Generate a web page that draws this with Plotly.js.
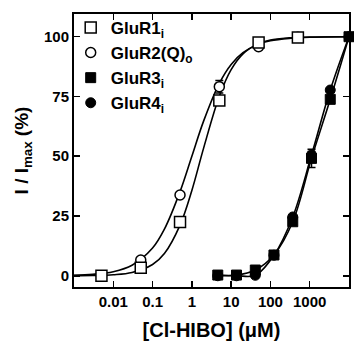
<!DOCTYPE html>
<html><head><meta charset="utf-8">
<script src="https://cdn.plot.ly/plotly-3.0.1.min.js"></script>
<style>html,body{margin:0;padding:0;background:#fff}#chart{width:354px;height:341px}</style>
</head><body><div id="chart"></div>
<script>
// Concentrations (µM)
var concR12 = [0.005, 0.05, 0.5, 5, 50, 500];
var gluR1 = [0, 3.4, 22.5, 73.3, 97.6, 99.7];
var gluR2 = [0, 6.6, 33.8, 79.1, 95.8, 99.8];
var gluR2Err = [0, 0, 0, 2.6, 0, 0];

var concR34 = [4.57, 13.7, 41.2, 123, 370, 1111, 3333, 10000];
var gluR3 = [0.3, 0.3, 2.4, 8.7, 22.6, 49.1, 73.8, 100];
var gluR3Err = [0, 0, 0, 0, 1.2, 3.8, 0, 0];
var gluR4 = [0, 0, 0.2, 8.6, 24.6, 50.5, 77.7, 100];
var gluR4Err = [0, 0, 0, 0, 0, 1.5, 0, 0];

// Fitted curves
var fitX = [0.001, 0.003, 0.01, 0.03, 0.1, 0.2, 0.5, 1, 2, 5, 10, 20, 50, 100, 300, 1000, 10000];
var fitGluR1 = [0.04, 0.12, 0.44, 1.4, 4.7, 9.3, 21.2, 35.7, 53.5, 75.1, 86.2, 92.8, 97.1, 98.6, 99.5, 99.9, 100];
var fitGluR2 = [0.23, 0.6, 1.7, 4.4, 11.6, 19.5, 35.2, 50, 64.8, 80.5, 88.4, 93.3, 96.9, 98.3, 99.3, 99.8, 100];

var names = ['<b>GluR1<sub>i</sub></b>', '<b>GluR2(Q)<sub>o</sub></b>', '<b>GluR3<sub>i</sub></b>', '<b>GluR4<sub>i</sub></b>'];

var traces = [
  {x: fitX, y: fitGluR2, mode: 'lines', line: {color: '#000', width: 1.6, shape: 'spline'}, showlegend: false, hoverinfo: 'skip'},
  {x: fitX, y: fitGluR1, mode: 'lines', line: {color: '#000', width: 1.6, shape: 'spline'}, showlegend: false, hoverinfo: 'skip'},
  {x: concR34, y: gluR4, mode: 'lines', line: {color: '#000', width: 1.6, shape: 'spline'}, showlegend: false, hoverinfo: 'skip'},
  {x: concR34, y: gluR3, mode: 'lines', line: {color: '#000', width: 1.6, shape: 'spline'}, showlegend: false, hoverinfo: 'skip'},
  {x: concR12, y: gluR2, name: names[1], legendrank: 2, mode: 'markers', cliponaxis: false,
   error_y: {type: 'data', array: gluR2Err, color: '#000', thickness: 1.5, width: 4},
   marker: {symbol: 'circle', size: 10, color: '#fff', line: {color: '#000', width: 1.5}}},
  {x: concR12, y: gluR1, name: names[0], legendrank: 1, mode: 'markers', cliponaxis: false,
   marker: {symbol: 'square', size: 11, color: '#fff', line: {color: '#000', width: 1.5}}},
  {x: concR34, y: gluR4, name: names[3], legendrank: 4, mode: 'markers', cliponaxis: false,
   error_y: {type: 'data', array: gluR4Err, color: '#000', thickness: 1.5, width: 4},
   marker: {symbol: 'circle', size: 10, color: '#000', line: {color: '#000', width: 1}}},
  {x: concR34, y: gluR3, name: names[2], legendrank: 3, mode: 'markers', cliponaxis: false,
   error_y: {type: 'data', array: gluR3Err, color: '#000', thickness: 1.5, width: 4},
   marker: {symbol: 'square', size: 10, color: '#000', line: {color: '#000', width: 1}}}
];

var font = {family: 'Liberation Sans, Arial, sans-serif', color: '#000'};
var layout = {
  width: 354, height: 341,
  margin: {l: 74, r: 5, t: 14, b: 54},
  paper_bgcolor: '#fff', plot_bgcolor: '#fff',
  showlegend: true,
  legend: {x: -0.012, y: 1.015, xanchor: 'left', yanchor: 'top', bgcolor: 'rgba(0,0,0,0)',
    font: {family: font.family, size: 17, color: '#000', weight: 'bold'}, tracegroupgap: 0, itemwidth: 30},
  xaxis: {type: 'log', range: [-3, 4], tickvals: [0.01, 0.1, 1, 10, 100, 1000],
    ticktext: ['0.01', '0.1', '1', '10', '100', '1000'],
    ticks: 'inside', ticklen: 6, tickwidth: 1.5, tickcolor: '#000',
    showline: true, linecolor: '#000', linewidth: 2, mirror: 'ticks', showgrid: false, zeroline: false,
    tickfont: {family: font.family, size: 15, color: '#000', weight: 'bold'},
    title: {text: '<b>[Cl-HIBO] (μM)</b>', font: {family: font.family, size: 20, color: '#000'}, standoff: 19}},
  yaxis: {range: [-4.7, 109.5], tickvals: [0, 25, 50, 75, 100],
    ticks: 'inside', ticklen: 6, tickwidth: 1.5, tickcolor: '#000',
    showline: true, linecolor: '#000', linewidth: 2, mirror: 'ticks', showgrid: false, zeroline: false,
    tickfont: {family: font.family, size: 15, color: '#000', weight: 'bold'},
    title: {text: '<b>I / I<sub>max</sub> (%)</b>', font: {family: font.family, size: 19, color: '#000'}, standoff: 10}}
};
Plotly.newPlot('chart', traces, layout, {displayModeBar: false, staticPlot: true});
</script></body></html>
